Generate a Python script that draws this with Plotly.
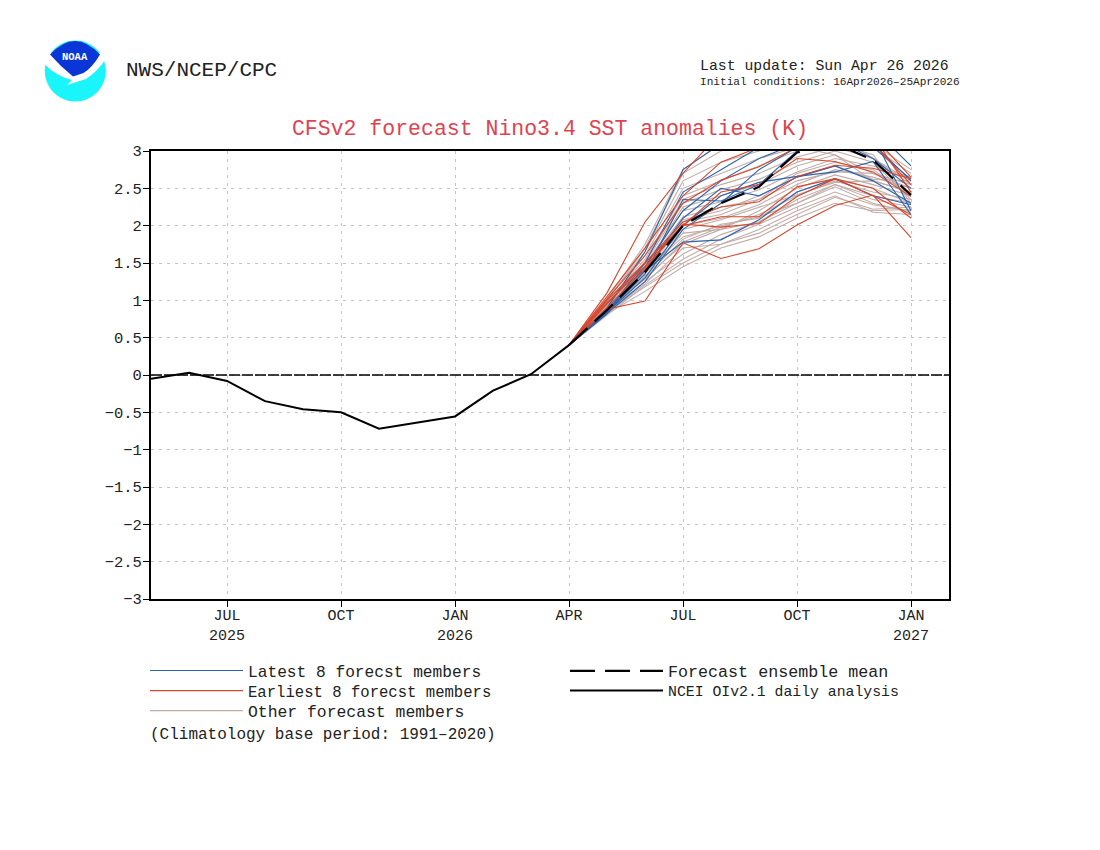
import plotly.graph_objects as go

# months along the x axis, evenly spaced like the original plot
all_months = ['May25', 'Jun25', 'Jul25', 'Aug25', 'Sep25', 'Oct25', 'Nov25', 'Dec25',
              'Jan26', 'Feb26', 'Mar26', 'Apr26', 'May26', 'Jun26', 'Jul26', 'Aug26',
              'Sep26', 'Oct26', 'Nov26', 'Dec26', 'Jan27', 'Feb27']
tick_months = ['Jul25', 'Oct25', 'Jan26', 'Apr26', 'Jul26', 'Oct26', 'Jan27']
tick_labels = ['JUL<br>2025', 'OCT', 'JAN<br>2026', 'APR', 'JUL', 'OCT', 'JAN<br>2027']

analysis_months = all_months[:12]
analysis = [-0.05, 0.03, -0.08, -0.35, -0.46, -0.5, -0.72, -0.635, -0.555, -0.21, 0.01, 0.4]

forecast_months = all_months[11:21]
start_value = 0.4
ensemble_mean = [0.87, 1.38, 2.0, 2.3, 2.52, 2.98, 3.1, 2.88, 2.41]

latest_members = [
    [0.9, 1.65, 2.75, 3.1, 3.2, 3.3, 3.4, 3.3, 2.8],
    [0.85, 1.5, 2.45, 2.75, 3.05, 3.2, 3.3, 3.1, 2.6],
    [0.85, 1.35, 2.35, 2.33, 2.55, 3.0, 3.15, 2.9, 2.5],
    [0.82, 1.4, 1.78, 1.81, 2.08, 2.45, 2.63, 2.4, 2.28],
    [0.84, 1.3, 2.0, 2.4, 2.58, 2.66, 2.72, 2.86, 2.15],
    [0.85, 1.45, 2.2, 2.6, 2.9, 3.1, 3.2, 3.2, 2.2],
    [0.82, 1.25, 1.95, 2.3, 2.75, 3.05, 3.3, 3.05, 2.62],
    [0.85, 1.4, 2.1, 2.5, 2.4, 2.65, 2.8, 2.6, 2.3],
]
earliest_members = [
    [1.1, 2.05, 2.7, 3.25, 3.4, 3.5, 3.4, 3.2, 2.65],
    [0.88, 0.99, 1.77, 1.56, 1.69, 2.01, 2.27, 2.41, 1.84],
    [0.95, 1.5, 2.0, 2.12, 2.12, 2.52, 2.63, 2.4, 2.15],
    [0.9, 1.42, 2.02, 1.98, 2.03, 2.39, 2.63, 2.5, 2.1],
    [1.02, 1.6, 2.3, 2.61, 2.79, 3.05, 3.1, 3.2, 2.45],
    [0.97, 1.45, 2.0, 2.45, 2.55, 2.9, 2.86, 2.72, 2.39],
    [1.0, 1.5, 2.05, 2.25, 2.32, 2.66, 2.81, 2.77, 2.63],
    [1.05, 1.7, 2.4, 2.85, 3.05, 3.2, 3.3, 3.1, 2.55],
]
other_members = [
    [0.82, 1.12, 1.45, 1.7, 1.85, 2.1, 2.3, 2.2, 2.22],
    [0.84, 1.18, 1.5, 1.75, 1.95, 2.2, 2.4, 2.18, 2.15],
    [0.8, 1.2, 1.55, 1.82, 2.02, 2.25, 2.45, 2.28, 2.2],
    [0.85, 1.25, 1.62, 1.88, 2.05, 2.3, 2.52, 2.3, 2.18],
    [0.83, 1.22, 1.7, 1.75, 1.9, 2.15, 2.38, 2.22, 2.25],
    [0.86, 1.3, 1.75, 1.95, 2.05, 2.35, 2.55, 2.4, 2.3],
    [0.9, 1.28, 1.78, 1.98, 2.15, 2.4, 2.6, 2.45, 2.35],
    [0.87, 1.32, 1.82, 2.02, 2.1, 2.45, 2.62, 2.5, 2.3],
    [0.88, 1.35, 1.9, 1.95, 2.2, 2.5, 2.68, 2.55, 2.4],
    [0.92, 1.38, 1.95, 2.08, 2.25, 2.42, 2.58, 2.6, 2.45],
    [0.9, 1.4, 2.0, 2.1, 2.28, 2.55, 2.75, 2.65, 2.5],
    [0.93, 1.42, 2.05, 2.15, 2.35, 2.6, 2.72, 2.7, 2.55],
    [0.9, 1.36, 2.08, 2.2, 2.4, 2.65, 2.8, 2.62, 2.6],
    [0.95, 1.45, 2.12, 2.25, 2.35, 2.7, 2.85, 2.75, 2.4],
    [0.94, 1.48, 2.2, 2.32, 2.48, 2.72, 2.9, 2.8, 2.65],
    [0.92, 1.44, 2.25, 2.4, 2.55, 2.8, 2.95, 2.7, 2.5],
    [0.97, 1.5, 2.3, 2.48, 2.62, 2.85, 3.0, 2.85, 2.35],
    [0.96, 1.52, 2.35, 2.55, 2.7, 2.92, 3.05, 2.9, 2.55],
    [0.98, 1.55, 2.4, 2.6, 2.8, 3.0, 3.1, 2.95, 2.3],
    [0.95, 1.6, 2.5, 2.7, 2.9, 3.05, 2.95, 2.6, 2.45],
    [1.0, 1.65, 2.6, 2.85, 3.0, 3.12, 3.2, 3.05, 2.7],
    [0.99, 1.7, 2.7, 3.0, 3.15, 3.3, 3.25, 2.9, 2.6],
    [1.02, 1.75, 2.75, 3.1, 3.3, 3.4, 3.35, 3.1, 2.75],
    [0.96, 1.4, 1.85, 2.0, 2.12, 2.3, 2.55, 2.35, 2.25],
]

FONT = 'Liberation Mono'
BLUE = '#2c64ad'
RED = '#d9452a'
GREY = '#c2aca8'


# page pixels -> paper fractions (inner plot box is 151..949 by 151..599 on the page)
def px(x):
    return (x - 151) / 798


def py(y):
    return (599 - y) / 448


def legend_box(x, y, size):
    return dict(x=px(x), y=py(y), xanchor='left', yanchor='middle', itemwidth=93,
                bgcolor='rgba(0,0,0,0)', font=dict(family=FONT, size=size, color='#222222'))


fig = go.Figure()


def add_members(members, color, name, legend):
    for i, m in enumerate(members):
        fig.add_trace(go.Scatter(x=forecast_months, y=[start_value] + m, mode='lines',
                                 line=dict(color=color, width=1.1), name=name,
                                 legend=legend, showlegend=(i == 0)))


add_members(other_members, GREY, 'Other forecast members', 'legend3')
add_members(latest_members, BLUE, 'Latest 8 forecst members', 'legend')
add_members(earliest_members, RED, 'Earliest 8 forecst members', 'legend2')

fig.add_trace(go.Scatter(x=forecast_months, y=[start_value] + ensemble_mean, mode='lines',
                         line=dict(color='black', width=2.2, dash='25px,10px'),
                         name='Forecast ensemble mean', legend='legend4'))
fig.add_trace(go.Scatter(x=analysis_months, y=analysis, mode='lines',
                         line=dict(color='black', width=2),
                         name='NCEI OIv2.1 daily analysis', legend='legend5'))


def logo_path(cmds):
    # cmds are (letter, x1, y1, ...) in page pixels
    out = ''
    for c in cmds:
        nums = c[1:]
        pts = [f'{px(nums[i])},{py(nums[i + 1])}' for i in range(0, len(nums), 2)]
        out += c[0] + ' '.join(pts) + ' '
    return out + 'Z'


cx, cy, r = 75.3, 71, 30.5
k = 0.5523 * r
# disc
fig.add_shape(type='path', xref='paper', yref='paper', fillcolor='#19f5fa', line=dict(width=0), layer='above',
              path=logo_path([('M', cx - r, cy),
                              ('C', cx - r, cy - k, cx - k, cy - r, cx, cy - r),
                              ('C', cx + k, cy - r, cx + r, cy - k, cx + r, cy),
                              ('C', cx + r, cy + k, cx + k, cy + r, cx, cy + r),
                              ('C', cx - k, cy + r, cx - r, cy + k, cx - r, cy)]))
# gull
fig.add_shape(type='path', xref='paper', yref='paper', fillcolor='white', line=dict(width=0), layer='above',
              path=logo_path([('M', 44, 60), ('L', 50, 53), ('L', 100, 53), ('L', 105, 60),
                              ('Q', 98, 71, 86, 79), ('L', 67, 85), ('L', 72, 80),
                              ('Q', 56, 76, 45.5, 65)]))
# blue cap
fig.add_shape(type='path', xref='paper', yref='paper', fillcolor='#0a36d8', line=dict(width=0), layer='above',
              path=logo_path([('M', 50, 54.5), ('Q', 75, 27.5, 100, 54.5), ('Q', 92, 68, 83.5, 73),
                              ('L', 73, 76.5), ('Q', 60, 66, 50, 54.5)]))

fig.add_hline(y=0, line=dict(color='black', width=1.4, dash='11px,2px'))

texts = [
    (124, 71, 'NWS/NCEP/CPC', 21, '#222222'),
    (698, 66, 'Last update: Sun Apr 26 2026', 14.8, '#222222'),
    (698, 82, 'Initial conditions: 16Apr2026–25Apr2026', 11.1, '#222222'),
    (148, 735, '(Climatology base period: 1991–2020)', 16, '#222222'),
]
annotations = [dict(xref='paper', yref='paper', x=px(a), y=py(b), text=t, showarrow=False,
                    xanchor='left', yanchor='middle', font=dict(family=FONT, size=s, color=c))
               for a, b, t, s, c in texts]
annotations.append(dict(xref='paper', yref='paper', x=px(75), y=py(57), text='<b>NOAA</b>', showarrow=False,
                        xanchor='center', yanchor='middle', font=dict(family=FONT, size=10.5, color='white')))

axis_style = dict(showline=True, linecolor='black', linewidth=2, mirror=True, ticks='outside',
                  tickcolor='black', tickwidth=1, ticklen=6, showgrid=True, gridcolor='#c4c4c4',
                  griddash='3px,5px', gridwidth=1, zeroline=False)

fig.update_layout(
    width=1084, height=834,
    margin=dict(l=143, r=143, t=143, b=243, autoexpand=False),
    paper_bgcolor='white', plot_bgcolor='white',
    title=dict(text='CFSv2 forecast Nino3.4 SST anomalies (K)', x=0.5, xanchor='center',
               y=0.857, yanchor='middle', font=dict(family=FONT, size=21.5, color='#e0434f')),
    xaxis=dict(type='category', categoryorder='array', categoryarray=all_months, range=[0, 21],
               tickmode='array', tickvals=tick_months, ticktext=tick_labels, ticklabelstandoff=-5,
               tickfont=dict(family=FONT, size=15, color='#222222'), **axis_style),
    yaxis=dict(range=[-3, 3], tick0=-3, dtick=0.5, ticklabelstandoff=-2,
               tickfont=dict(family=FONT, size=15.5, color='#222222'), **axis_style),
    legend=legend_box(145, 671, 16.2),
    legend2=legend_box(145, 691, 15.6),
    legend3=legend_box(145, 711, 16.4),
    legend4=legend_box(565, 671, 16.7),
    legend5=legend_box(565, 691, 14.8),
    annotations=annotations,
)

fig.write_html("out.html")
